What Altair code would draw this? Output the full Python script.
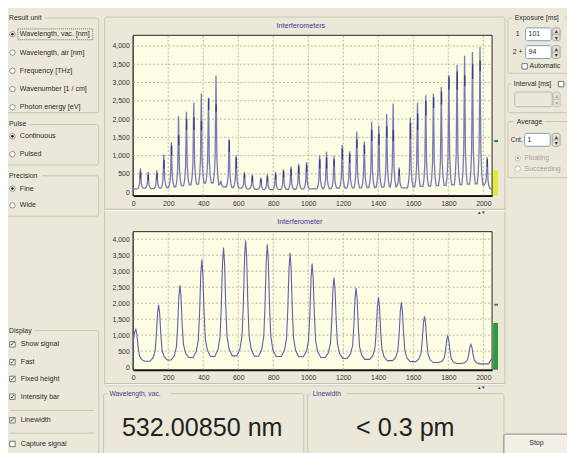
import altair as alt
import pandas as pd

# ---------------- chart values ----------------
x_ticks = [0, 200, 400, 600, 800, 1000, 1200, 1400, 1600, 1800, 2000]
y_ticks = [0, 500, 1000, 1500, 2000, 2500, 3000, 3500, 4000]

# top panel "Interferometers": spike positions / heights
top_peak_x = [41, 85, 135, 175, 218, 259, 304, 346, 389, 430,
              473, 501, 548, 588, 635, 680, 729, 766, 813, 858,
              901, 945, 990, 1065, 1104, 1147, 1194, 1236, 1277, 1320,
              1362, 1403, 1448, 1485, 1519, 1583, 1624, 1671, 1715, 1760,
              1803, 1850, 1893, 1938, 1981, 2022]
top_peak_h = [656, 557, 600, 1030, 1365, 2085, 2200, 2450, 2700, 2580,
              3190, 315, 1440, 1005, 557, 494, 404, 494, 557, 630,
              700, 780, 826, 1005, 1105, 1000, 1300, 1120, 1660, 1390,
              1930, 1820, 2140, 2425, 674, 2040, 2450, 2650, 2700, 2875,
              3207, 3477, 3730, 3836, 3970, 960]
# baseline level left of each spike (plus the end level)
top_valley = [90, 110, 100, 110, 130, 150, 180, 200, 220, 250, 260,
              200, 150, 130, 110, 90, 80, 70, 70, 70, 80,
              80, 90, 90, 100, 100, 110, 110, 120, 120, 130,
              130, 140, 150, 150, 120, 150, 160, 170, 180, 190,
              200, 210, 220, 230, 200, 100]
# dark core of each spike
top_core_lo = [380, 330, 350, 650, 1000, 1300, 1700, 1700, 1700, 2250,
               2200, None, 1100, 650, 380, 300, 250, 300, 350, 400,
               450, 500, 550, 650, 650, 700, 900, 800, 1200, 1050,
               1400, 1300, 1500, 1400, 450, 1450, 1700, 2100, 2300, 2400,
               2800, 2800, 2900, 3100, 3300, 700]
top_core_hi = [560, 480, 520, 880, 1280, 1550, 2000, 2050, 1950, 2560,
               2400, None, 1420, 950, 500, 440, 360, 440, 500, 580,
               640, 720, 760, 900, 950, 900, 1200, 1050, 1450, 1300,
               1700, 1600, 1800, 1700, 620, 1900, 2150, 2500, 2600, 2750,
               3150, 3300, 3200, 3500, 3600, 900]
top_bar = 600          # intensity bar (yellow)
top_marker = 1400      # green marker

# bottom panel "Interferometer"
bot_peak_x = [15, 145, 267, 392, 516, 642, 766, 896, 1022, 1147,
              1273, 1401, 1532, 1664, 1797, 1929]
bot_peak_h = [1180, 1950, 2560, 3360, 3740, 3960, 3840, 3565, 3240, 2800,
              2470, 2180, 2025, 1590, 966, 710]
bot_valley = [650, 180, 220, 300, 330, 350, 340, 330, 320, 300, 270,
              240, 200, 170, 140, 110, 100]
bot_tail_x = [2030, 2050]
bot_tail_y = [100, 270]
bot_bar = 1380
bot_marker = 1950

# peak outline templates (offset from centre, fraction of height)
top_profile_dx = [-16, -10, -5, -2, 0, 2, 5, 10, 16]
top_profile_f = [0, 0.08, 0.25, 0.7, 1, 0.7, 0.25, 0.08, 0]
bot_profile_dx = [-50, -32, -20, -13, -6, 0, 6, 13, 20, 32, 50]
bot_profile_f = [0, 0.06, 0.18, 0.45, 0.85, 1, 0.85, 0.45, 0.18, 0.06, 0]

# ---------------- layout ----------------
W, H = 567, 445
OFF = 8
X_DOM = [0, 2050]
XR = [135 - OFF, 499 - OFF]
TOP_YDOM = [-90, 4290]
TOP_YR = [195.04 - OFF, 32.54 - OFF]
BOT_YDOM = [-85, 4235]
BOT_YR = [371.76 - OFF, 231.68 - OFF]

SANS = "Liberation Sans, Arial, sans-serif"
BG = "#ebe8da"
TXT = "#2a2a2a"
BLUE_T = "#3a3a98"
GRAY_T = "#a5a39a"

UX = alt.Scale(domain=[OFF, W + OFF], range=[0, W], nice=False, zero=False)
UY = alt.Scale(domain=[OFF, H + OFF], range=[0, H], nice=False, zero=False)


def build_trace(px_, ph_, valleys, dx, fr, tail):
    xs, ys = [0], [valleys[0]]
    for i, (p, h) in enumerate(zip(px_, ph_)):
        for d, f in zip(dx, fr):
            x = p + d
            if x <= 0 or x >= X_DOM[1]:
                continue
            base = valleys[i] if d < 0 else valleys[i + 1]
            xs.append(x)
            ys.append(base + f * (h - base))
    for x, y in tail:
        xs.append(x)
        ys.append(y)
    return pd.DataFrame({"x": xs, "y": ys, "i": range(len(xs))})


top_line = build_trace(top_peak_x, top_peak_h, top_valley, top_profile_dx,
                       top_profile_f, [(2050, top_valley[-1])])
bot_line = build_trace(bot_peak_x, bot_peak_h, bot_valley, bot_profile_dx,
                       bot_profile_f, list(zip(bot_tail_x, bot_tail_y)))
top_core = pd.DataFrame({"x": [p + 1 for p in top_peak_x], "y": top_core_lo,
                         "y2": top_core_hi}).dropna()


def plot(line_df, ydom, yr, bar_hi, bar_color, marker_y, line_color, line_w, core_df=None):
    xs = alt.Scale(domain=X_DOM, range=XR, nice=False, zero=False)
    ys = alt.Scale(domain=ydom, range=yr, nice=False, zero=False)
    common = dict(title=None, grid=False, ticks=False, labelPadding=4,
                  domainColor="#111", domainWidth=2, labelFont=SANS,
                  labelFontSize=7, labelColor="#333", labelFlush=False,
                  labelOverlap=False)
    xa = alt.Axis(orient="bottom", offset=yr[0] - H, values=x_ticks, format="d", **common)
    ya = alt.Axis(orient="left", offset=-XR[0], values=y_ticks, format=",d", **common)
    X = lambda f: alt.X(f, scale=xs, axis=xa)
    Y = lambda f: alt.Y(f, scale=ys, axis=ya)

    frame = alt.Chart(pd.DataFrame({"x": [X_DOM[0]], "x2": [X_DOM[1]],
                                    "y": [ydom[0]], "y2": [ydom[1]]})).mark_rect(
        fill="#fdfde3", stroke="#222", strokeWidth=1).encode(
        x=X("x:Q"), x2="x2:Q", y=Y("y:Q"), y2="y2:Q")
    vgrid = alt.Chart(pd.DataFrame({"x": x_ticks[1:], "y": ydom[0], "y2": ydom[1]})).mark_rule(
        color="#a4a494", strokeDash=[2, 2], strokeWidth=0.8).encode(
        x=X("x:Q"), y=Y("y:Q"), y2="y2:Q")
    hgrid = alt.Chart(pd.DataFrame({"y": y_ticks[1:], "x": X_DOM[0], "x2": X_DOM[1]})).mark_rule(
        color="#a4a494", strokeDash=[2, 2], strokeWidth=0.8).encode(
        y=Y("y:Q"), x=X("x:Q"), x2="x2:Q")
    line = alt.Chart(line_df).mark_line(color=line_color, strokeWidth=line_w).encode(
        x=X("x:Q"), y=Y("y:Q"), order="i:Q")
    bar = alt.Chart(pd.DataFrame({"x": [2056], "x2": [2084], "y": [ydom[0]],
                                  "y2": [bar_hi]})).mark_rect(fill=bar_color).encode(
        x=X("x:Q"), x2="x2:Q", y=Y("y:Q"), y2="y2:Q")
    mark = alt.Chart(pd.DataFrame({"x": [2062], "x2": [2084], "y": [marker_y - 30],
                                   "y2": [marker_y + 30]})).mark_rect(fill="#2e8b3a").encode(
        x=X("x:Q"), x2="x2:Q", y=Y("y:Q"), y2="y2:Q")
    layers = [frame, vgrid, hgrid, line]
    if core_df is not None:
        layers.append(alt.Chart(core_df).mark_rule(color="#3a3a8e", strokeWidth=1.4).encode(
            x=X("x:Q"), y=Y("y:Q"), y2="y2:Q"))
    layers += [bar, mark]
    return alt.layer(*layers)


top = plot(top_line, TOP_YDOM, TOP_YR, top_bar, "#e8e830", top_marker, "#7878bc", 1.3, top_core)
bot = plot(bot_line, BOT_YDOM, BOT_YR, bot_bar, "#2e9a3e", bot_marker, "#5e5eac", 1.1)

# ---------------- window chrome ----------------
boxes = [  # x, y, x2, y2, stroke, fill
    (106, 14, 512, 388, "#c9c6b4", "transparent"),
    (5, 15, 100, 111, "#c8c5b3", "transparent"),
    (5, 123, 100, 164, "#c8c5b3", "transparent"),
    (5, 175, 100, 216, "#c8c5b3", "transparent"),
    (5, 332, 100, 470, "#c8c5b3", "transparent"),
    (515, 15, 580, 71, "#c8c5b3", "transparent"),
    (515, 82, 580, 111, "#c8c5b3", "transparent"),
    (515, 120, 580, 177, "#c8c5b3", "transparent"),
    (105, 396, 308, 470, "#c8c5b3", "transparent"),
    (312, 396, 511, 470, "#c8c5b3", "transparent"),
    (511, 437, 580, 470, "#8c8a7e", "#f2f0e6"),
    # title gaps
    (8, 11, 45, 19, BG, BG), (8, 119, 29, 127, BG, BG), (8, 171, 42, 179, BG, BG),
    (8, 328, 35, 336, BG, BG), (520, 11, 572, 19, BG, BG), (519, 78, 565, 86, BG, BG),
    (522, 116, 552, 124, BG, BG), (109, 392, 172, 400, BG, BG), (315, 392, 351, 400, BG, BG),
    # spin fields
    (533, 25, 559, 38, "#7f9db9", "#ffffff"), (533, 43, 559, 56, "#7f9db9", "#ffffff"),
    (522, 90, 560, 105, "#bcb9aa", BG), (532, 132, 558, 145, "#7f9db9", "#ffffff"),
    (560, 25, 568, 38, "#a9a699", "#e3e0d2"), (560, 43, 568, 56, "#a9a699", "#e3e0d2"),
    (561, 90, 568, 105, "#c4c1b3", "#e6e3d6"), (560, 132, 568, 145, "#a9a699", "#e3e0d2"),
]
box_df = pd.DataFrame(boxes, columns=["x", "y", "x2", "y2", "stroke", "fill"])
box_layer = alt.Chart(box_df).mark_rect(cornerRadius=2, strokeWidth=1).encode(
    x=alt.X("x:Q", scale=UX, axis=None), x2="x2:Q",
    y=alt.Y("y:Q", scale=UY, axis=None), y2="y2:Q",
    stroke=alt.Stroke("stroke:N", scale=None), fill=alt.Fill("fill:N", scale=None))

rules = [  # x, y, x2, y2, color
    (106, 209, 512, 209, "#b3b0a0"), (106, 210, 512, 210, "#ffffff"),
    (106, 386, 512, 386, "#b3b0a0"), (106, 387, 512, 387, "#ffffff"),
    (10, 413, 95, 413, "#c8c5b3"), (10, 436, 95, 436, "#c8c5b3"),
    (560, 31.5, 568, 31.5, "#a9a699"), (560, 49.5, 568, 49.5, "#a9a699"),
    (561, 97.5, 568, 97.5, "#c4c1b3"), (560, 138.5, 568, 138.5, "#a9a699"),
]
rule_df = pd.DataFrame(rules, columns=["x", "y", "x2", "y2", "c"])
rule_layer = alt.Chart(rule_df).mark_rule(strokeWidth=1).encode(
    x=alt.X("x:Q", scale=UX, axis=None), x2="x2:Q",
    y=alt.Y("y:Q", scale=UY, axis=None), y2="y2:Q",
    color=alt.Color("c:N", scale=None))

focus_layer = alt.Chart(pd.DataFrame({"x": [18], "x2": [94], "y": [26], "y2": [37]})).mark_rect(
    fill="transparent", stroke="#555", strokeDash=[1, 1], strokeWidth=0.8).encode(
    x=alt.X("x:Q", scale=UX, axis=None), x2="x2:Q",
    y=alt.Y("y:Q", scale=UY, axis=None), y2="y2:Q")

radios = pd.DataFrame({"x": [12.5] * 9 + [525, 525],
                       "y": [31.5, 50, 68.5, 87, 105.5, 135, 153, 188, 205, 157, 168],
                       "s": ["#7a7a7a"] * 9 + ["#b5b3a8"] * 2})
radio_layer = alt.Chart(radios).mark_point(shape="circle", filled=True, fill="white",
                                          strokeWidth=0.8, size=30, opacity=1).encode(
    x=alt.X("x:Q", scale=UX, axis=None), y=alt.Y("y:Q", scale=UY, axis=None),
    stroke=alt.Stroke("s:N", scale=None))
dots = pd.DataFrame({"x": [12.5, 12.5, 12.5, 525], "y": [31.5, 135, 188, 157],
                     "c": ["#222", "#222", "#222", "#a5a39a"]})
dot_layer = alt.Chart(dots).mark_point(shape="circle", filled=True, size=7, opacity=1).encode(
    x=alt.X("x:Q", scale=UX, axis=None), y=alt.Y("y:Q", scale=UY, axis=None),
    color=alt.Color("c:N", scale=None))
checks = pd.DataFrame({"x": [12.5] * 6 + [532, 569], "y": [346, 364, 381, 399, 423, 447, 64, 82]})
check_layer = alt.Chart(checks).mark_square(filled=True, fill="white", stroke="#555",
                                           strokeWidth=0.8, size=30, opacity=1).encode(
    x=alt.X("x:Q", scale=UX, axis=None), y=alt.Y("y:Q", scale=UY, axis=None))


def text_layer(rows, align="left", font=SANS, baseline="middle"):
    df = pd.DataFrame(rows, columns=["x", "y", "text", "size", "color"])
    return alt.Chart(df).mark_text(align=align, baseline=baseline, font=font).encode(
        x=alt.X("x:Q", scale=UX, axis=None), y=alt.Y("y:Q", scale=UY, axis=None),
        text="text:N", size=alt.Size("size:Q", scale=None),
        color=alt.Color("color:N", scale=None))


left_texts = [
    (9, 15, "Result unit", 7, TXT), (9, 123, "Pulse", 7, TXT), (9, 175, "Precision", 7, TXT),
    (9, 332, "Display", 7, TXT),
    (20, 31.5, "Wavelength, vac.  [nm]", 7.2, TXT), (20, 50, "Wavelength, air  [nm]", 7.2, TXT),
    (20, 68.5, "Frequency  [THz]", 7.2, TXT), (20, 87, "Wavenumber  [1 / cm]", 7.2, TXT),
    (20, 105.5, "Photon energy  [eV]", 7.2, TXT),
    (20, 135, "Continuous", 7.2, TXT), (20, 153, "Pulsed", 7.2, TXT),
    (20, 188, "Fine", 7.2, TXT), (20, 205, "Wide", 7.2, TXT),
    (21, 346, "Show signal", 7.2, TXT), (21, 364, "Fast", 7.2, TXT),
    (21, 381, "Fixed height", 7.2, TXT), (21, 399, "Intensity bar", 7.2, TXT),
    (21, 423, "Linewidth", 7.2, TXT), (21, 447, "Capture signal", 7.2, TXT),
    (522, 15, "Exposure [ms]", 7, TXT), (521, 82, "Interval [ms]", 7, TXT),
    (524, 120, "Average", 7, TXT),
    (523, 31.5, "1", 7, TXT), (520, 49.5, "2 +", 7, TXT), (537, 64, "Automatic", 7, TXT),
    (518, 139, "Cnt.", 6.5, TXT), (536, 31.5, "101", 7, TXT), (536, 49.5, "94", 7, TXT),
    (535, 138.5, "1", 7, TXT),
    (532, 157, "Floating", 7, GRAY_T), (532, 168, "Succeeding", 7, GRAY_T),
    (111, 396, "Wavelength, vac.", 6.8, BLUE_T), (317, 396, "Linewidth", 6.8, BLUE_T),
]
center_texts = [
    (305, 23.5, "Interferometers", 7.3, BLUE_T), (304, 221.5, "Interferometer", 7.3, BLUE_T),
    (544, 446, "Stop", 7.2, TXT),
]
glyph_texts = [
    (564, 28.5, "▴", 6, "#333"), (564, 35, "▾", 6, "#333"),
    (564, 46.5, "▴", 6, "#333"), (564, 53, "▾", 6, "#333"),
    (564.5, 94, "▴", 6, "#aaa"), (564.5, 101.5, "▾", 6, "#aaa"),
    (564, 135.5, "▴", 6, "#333"), (564, 142, "▾", 6, "#333"),
    (488, 212, "▴ ▾", 5, "#333"), (488, 389, "▴ ▾", 5, "#333"),
    (12.8, 346, "✓", 7, "#222"), (12.8, 364, "✓", 7, "#222"), (12.8, 381, "✓", 7, "#222"),
    (12.8, 399, "✓", 7, "#222"), (12.8, 423, "✓", 7, "#222"),
]
big_texts = [
    (205, 438.5, "532.00850 nm", 25.5, "#222"), (411, 438.5, "< 0.3 pm", 25.5, "#222"),
]

ui = alt.layer(
    box_layer, rule_layer, focus_layer, radio_layer, dot_layer, check_layer,
    text_layer(left_texts), text_layer(center_texts, align="center"),
    text_layer(glyph_texts, align="center", font="DejaVu Sans"),
    text_layer(big_texts, align="center", baseline="alphabetic"),
)

chart = alt.layer(ui, top, bot).resolve_scale(
    x="independent", y="independent"
).properties(
    width=W, height=H, padding=0, background=BG,
    autosize=alt.AutoSizeParams(type="none"),
).configure_view(stroke=None)

chart.save("out.html", embed_options={"renderer": "svg", "actions": False})
